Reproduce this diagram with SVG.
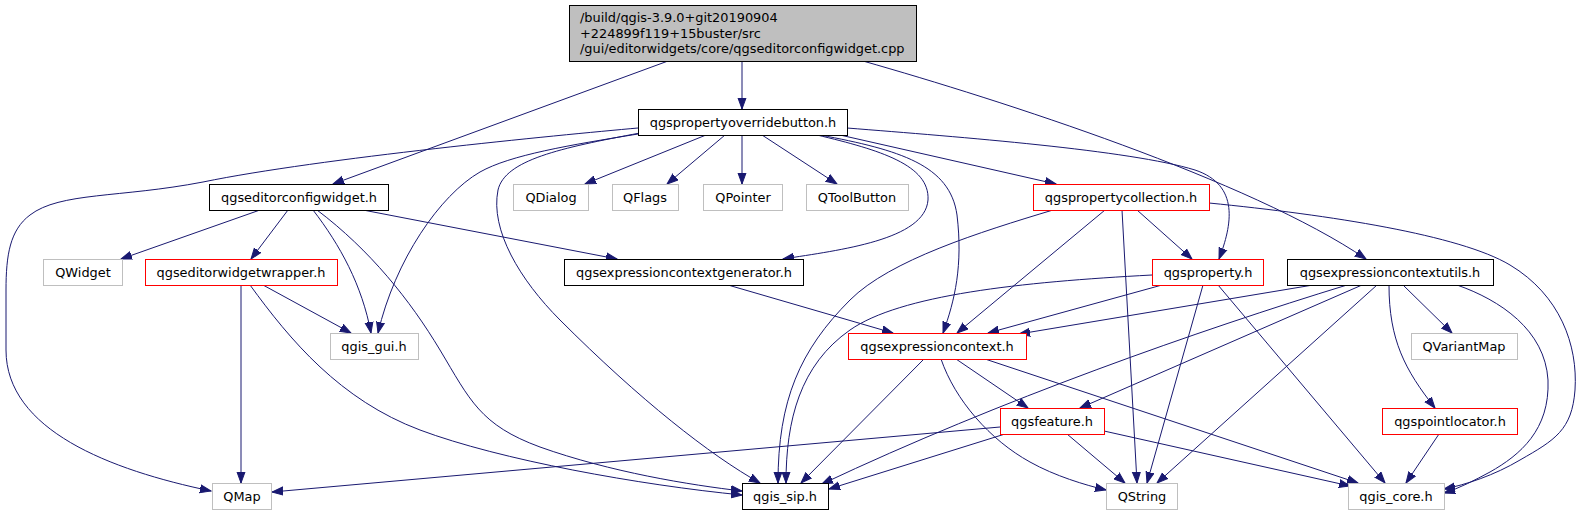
<svg xmlns="http://www.w3.org/2000/svg" width="1583" height="515" viewBox="0 0 1583 515">
<style>
.n rect{fill:#fff;stroke:#000;stroke-width:1}
.g rect{fill:#fff;stroke:#bfbfbf;stroke-width:1}
.r rect{fill:#fff;stroke:#ff0000;stroke-width:1}
text{font-family:"DejaVu Sans",sans-serif;font-size:12.9px;fill:#000}
.c{text-anchor:middle}
#edges path{fill:none;stroke:#191970;stroke-width:1;marker-end:url(#a)}
</style>
<defs>
<marker id="a" viewBox="0 -6 12 12" refX="11" refY="0" markerWidth="12" markerHeight="12" markerUnits="userSpaceOnUse" orient="auto">
<path d="M0,-4L11,0L0,4z" fill="#191970" stroke="#191970" stroke-width="1"/>
</marker>
</defs>
<rect width="1583" height="515" fill="#fff"/>
<g id="edges">
<path d="M668,61L333,184"/>
<path d="M742,61L742,109"/>
<path d="M863,61C1000,100 1250,180 1366,259"/>
<path d="M638,128C560,135 320,158 203,182C120,198 60,192 30,215C10,230 6,255 6,290L6,350C6,430 110,470 211,491"/>
<path d="M640,133C560,148 505,160 498,190C490,230 520,280 560,320C640,400 710,455 760,483"/>
<path d="M638,134C570,145 510,155 480,172C440,195 395,260 378,333"/>
<path d="M706,135L585,184"/>
<path d="M725,135L667,184"/>
<path d="M742,135L742,184"/>
<path d="M762,135L837,184"/>
<path d="M817,135C880,150 930,165 928,200C925,240 840,250 783,259"/>
<path d="M820,135C900,150 950,165 957,215C963,265 955,300 943,333"/>
<path d="M840,135L1056,184"/>
<path d="M847,128C960,137 1130,150 1195,170C1240,185 1232,225 1219,259"/>
<path d="M260,210L121,259"/>
<path d="M288,210L251,259"/>
<path d="M313,210C340,245 362,285 371,333"/>
<path d="M317,210C370,250 410,300 440,350C470,400 480,425 540,447C610,472 690,485 742,491"/>
<path d="M363,210L617,259"/>
<path d="M241,285L241,483"/>
<path d="M263,285L351,333"/>
<path d="M250,285C290,340 340,400 420,430C500,460 640,485 742,495"/>
<path d="M728,285L893,333"/>
<path d="M1053,210C980,232 890,260 850,300C800,350 778,400 778,483"/>
<path d="M1105,210L957,333"/>
<path d="M1122,210L1137,483"/>
<path d="M1137,210L1192,259"/>
<path d="M1209,203C1330,215 1460,235 1510,265C1560,295 1578,345 1575,390C1572,430 1555,440 1520,460C1495,475 1465,485 1444,489"/>
<path d="M1152,275C1020,282 900,295 850,330C800,365 786,420 786,483"/>
<path d="M1162,285L988,333"/>
<path d="M1203,285L1147,483"/>
<path d="M1218,285L1385,483"/>
<path d="M1313,285L1019,334"/>
<path d="M1347,285C1200,330 1000,400 822,484"/>
<path d="M1362,285L1080,408"/>
<path d="M1377,285L1157,483"/>
<path d="M1403,285L1452,333"/>
<path d="M1389,285C1389,340 1405,370 1435,408"/>
<path d="M1457,285C1500,300 1545,330 1548,380C1550,430 1520,455 1490,472C1475,480 1460,488 1444,493"/>
<path d="M924,359L801,483"/>
<path d="M956,359L1028,408"/>
<path d="M941,359C955,400 990,440 1030,462C1055,476 1085,485 1106,490"/>
<path d="M985,359L1358,483"/>
<path d="M1000,427L272,492"/>
<path d="M1005,434L829,489"/>
<path d="M1067,434L1125,483"/>
<path d="M1104,431L1350,486"/>
<path d="M1439,434L1406,483"/>
</g>
<g id="node-root" class="n"><rect x="569.5" y="5.5" width="347" height="56" style="fill:#bfbfbf"/><text x="580" y="22">/build/qgis-3.9.0+git20190904</text><text x="580" y="37.5">+224899f119+15buster/src</text><text x="580" y="53">/gui/editorwidgets/core/qgseditorconfigwidget.cpp</text></g>
<g id="node-qgspropertyoverridebutton" class="n"><rect x="638.5" y="109.5" width="209" height="26"/><text class="c" x="743" y="127">qgspropertyoverridebutton.h</text></g>
<g id="node-qgseditorconfigwidget" class="n"><rect x="209.5" y="184.5" width="179" height="26"/><text class="c" x="299" y="202">qgseditorconfigwidget.h</text></g>
<g id="node-QWidget" class="g"><rect x="43.5" y="259.5" width="79" height="26"/><text class="c" x="83" y="277">QWidget</text></g>
<g id="node-qgseditorwidgetwrapper" class="r"><rect x="145.5" y="259.5" width="192" height="26"/><text class="c" x="241" y="277">qgseditorwidgetwrapper.h</text></g>
<g id="node-QDialog" class="g"><rect x="513.5" y="184.5" width="75" height="26"/><text class="c" x="551" y="202">QDialog</text></g>
<g id="node-QFlags" class="g"><rect x="612.5" y="184.5" width="66" height="26"/><text class="c" x="645" y="202">QFlags</text></g>
<g id="node-QPointer" class="g"><rect x="703.5" y="184.5" width="79" height="26"/><text class="c" x="743" y="202">QPointer</text></g>
<g id="node-QToolButton" class="g"><rect x="806.5" y="184.5" width="102" height="26"/><text class="c" x="857" y="202">QToolButton</text></g>
<g id="node-qgspropertycollection" class="r"><rect x="1033.5" y="184.5" width="176" height="26"/><text class="c" x="1121" y="202">qgspropertycollection.h</text></g>
<g id="node-qgsexpressioncontextgenerator" class="n"><rect x="564.5" y="259.5" width="239" height="26"/><text class="c" x="684" y="277">qgsexpressioncontextgenerator.h</text></g>
<g id="node-qgsproperty" class="r"><rect x="1152.5" y="259.5" width="111" height="26"/><text class="c" x="1208" y="277">qgsproperty.h</text></g>
<g id="node-qgsexpressioncontextutils" class="n"><rect x="1287.5" y="259.5" width="206" height="26"/><text class="c" x="1390" y="277">qgsexpressioncontextutils.h</text></g>
<g id="node-qgis_gui" class="g"><rect x="330.5" y="333.5" width="88" height="26"/><text class="c" x="374" y="351">qgis_gui.h</text></g>
<g id="node-qgsexpressioncontext" class="r"><rect x="848.5" y="333.5" width="178" height="26"/><text class="c" x="937" y="351">qgsexpressioncontext.h</text></g>
<g id="node-QVariantMap" class="g"><rect x="1411.5" y="333.5" width="106" height="26"/><text class="c" x="1464" y="351">QVariantMap</text></g>
<g id="node-qgsfeature" class="r"><rect x="1000.5" y="408.5" width="104" height="26"/><text class="c" x="1052" y="426">qgsfeature.h</text></g>
<g id="node-qgspointlocator" class="r"><rect x="1382.5" y="408.5" width="135" height="26"/><text class="c" x="1450" y="426">qgspointlocator.h</text></g>
<g id="node-QMap" class="g"><rect x="212.5" y="483.5" width="59" height="26"/><text class="c" x="242" y="501">QMap</text></g>
<g id="node-qgis_sip" class="n"><rect x="742.5" y="483.5" width="86" height="26"/><text class="c" x="785" y="501">qgis_sip.h</text></g>
<g id="node-QString" class="g"><rect x="1106.5" y="483.5" width="71" height="26"/><text class="c" x="1142" y="501">QString</text></g>
<g id="node-qgis_core" class="g"><rect x="1348.5" y="483.5" width="96" height="26"/><text class="c" x="1396" y="501">qgis_core.h</text></g>
</svg>
